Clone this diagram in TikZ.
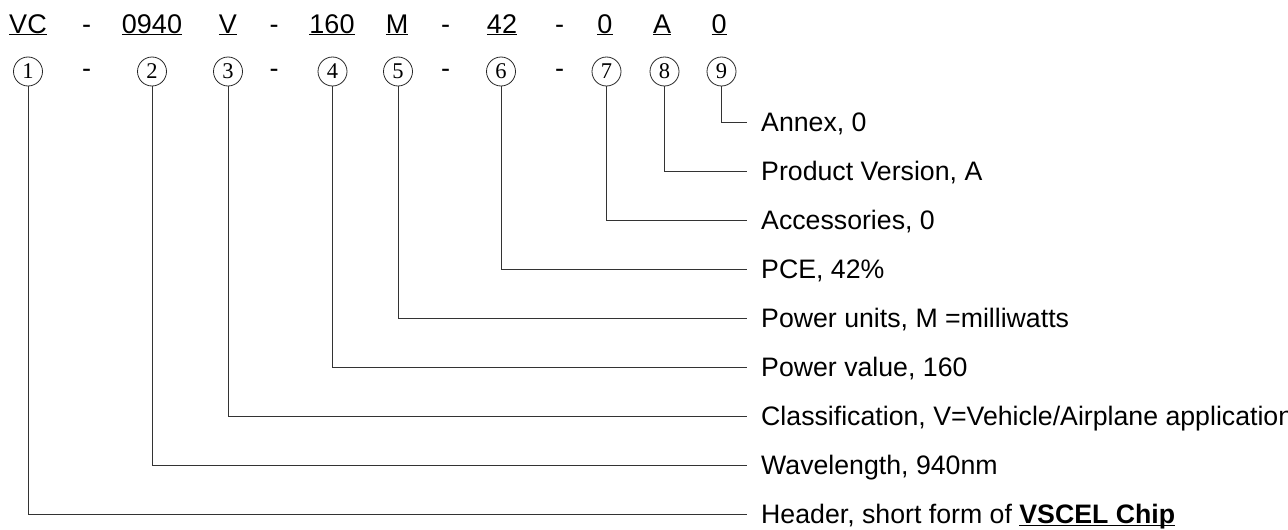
\documentclass[tikz,border=0pt]{standalone}
\usepackage{fontspec}
\setmainfont{Liberation Sans}
\newfontfamily\numfont{Liberation Serif}
\usepackage{tikz}

\tikzset{
  code/.style={anchor=base, inner sep=0pt, font=\fontsize{27}{30}\selectfont},
  num/.style={circle, draw=black!85, line width=0.8pt, minimum size=29pt,
    inner sep=0pt, font=\numfont\fontsize{22.5}{22.5}\selectfont},
  desc/.style={anchor=west, inner xsep=14pt, inner ysep=0pt, text height=19pt,
    text depth=0pt, font=\fontsize{26.7}{30}\selectfont},
  lead/.style={draw=black!80, line width=1pt}
}

\begin{document}
\begin{tikzpicture}[x=1pt,y=-1pt]
  \useasboundingbox (0,0) rectangle (1288,530);
  \clip (0,0) rectangle (1288,530);

  \newcommand\TopY{33}
  \newcommand\NumY{71.5}
  \newcommand\DashY{77}
  \newcommand\LineX{747}

  %% code row
  \node[code] (c1) at (28,\TopY) {\underline{VC}};
  \node[code] (c2) at (152,\TopY) {\underline{0940}};
  \node[code] (c3) at (228,\TopY) {\underline{V}};
  \node[code] (c4) at (332,\TopY) {\underline{160}};
  \node[code] (c5) at (397,\TopY) {\underline{M}};
  \node[code] (c6) at (502,\TopY) {\underline{42}};
  \node[code] (c7) at (605,\TopY) {\underline{0}};
  \node[code] (c8) at (662,\TopY) {\underline{A}};
  \node[code] (c9) at (719,\TopY) {\underline{0}};

  %% dashes, both rows
  \foreach \x [count=\k] in {86.5,274,445.5,559.5} {
    \node[code] (t\k) at (\x,\TopY) {-};
    \node[code] (s\k) at (\x,\DashY) {-};
  }

  %% numbered circles
  \foreach \i/\x in {1/28,2/152,3/228,4/332.5,5/398,6/501,7/606.5,8/664.5,9/721.5}
    \node[num] (n\i) at (\x,\NumY) {\i};

  %% descriptions
  \node[desc] (l9) at (\LineX,122) {Annex, 0};
  \node[desc] (l8) at (\LineX,171) {Product Version, A};
  \node[desc] (l7) at (\LineX,220) {Accessories, 0};
  \node[desc] (l6) at (\LineX,269) {PCE, 42\%};
  \node[desc] (l5) at (\LineX,318) {Power units, M =milliwatts};
  \node[desc] (l4) at (\LineX,367) {Power value, 160};
  \node[desc] (l3) at (\LineX,416) {Classification, V=Vehicle/Airplane application};
  \node[desc] (l2) at (\LineX,465) {Wavelength, 940nm};
  \node[desc] (l1) at (\LineX,514) {Header, short form of \underline{\smash{\textbf{VSCEL Chip}}}};

  %% leaders
  \foreach \i in {1,...,9}
    \draw[lead] (n\i) |- (l\i.west);
\end{tikzpicture}
\end{document}
